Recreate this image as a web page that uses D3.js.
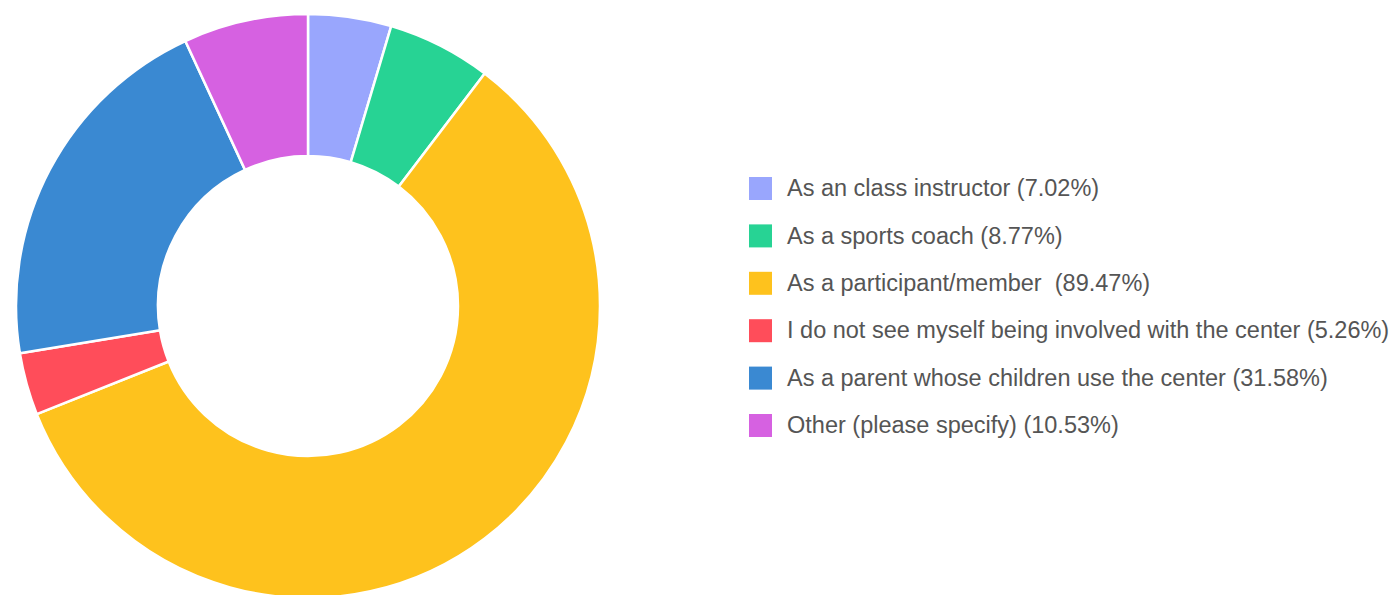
<!DOCTYPE html>
<html>
<head>
<meta charset="utf-8">
<script src="https://cdn.jsdelivr.net/npm/d3@7"></script>
<style>
  html, body { margin: 0; padding: 0; background: #fff; }
  svg { display: block; }
</style>
</head>
<body>
<div id="chart"></div>
<script>
// chart data
var categories = [
  'As an class instructor',
  'As a sports coach',
  'As a participant/member ',
  'I do not see myself being involved with the center',
  'As a parent whose children use the center',
  'Other (please specify)'
];
var percents = [7.02, 8.77, 89.47, 5.26, 31.58, 10.53];
var colors = ['#99a6fd', '#27d394', '#fec21d', '#ff4d5a', '#3a89d2', '#d661e1'];

var width = 1396, height = 595;
var cx = 308, cy = 306, outerR = 292, innerR = 150;

var svg = d3.select('#chart').append('svg')
  .attr('width', width)
  .attr('height', height);

var data = categories.map(function (c, i) {
  return { label: c, value: percents[i], color: colors[i] };
});

// pie layout, starting at 12 o'clock going clockwise
var pie = d3.pie()
  .sort(null)
  .value(function (d) { return d.value; });

var arc = d3.arc()
  .innerRadius(innerR)
  .outerRadius(outerR);

var g = svg.append('g')
  .attr('transform', 'translate(' + cx + ',' + cy + ')');

g.selectAll('path')
  .data(pie(data))
  .enter().append('path')
  .attr('d', arc)
  .attr('fill', function (d) { return d.data.color; })
  .attr('stroke', '#fff')
  .attr('stroke-width', 2.5);

// legend
var rowY = d3.scalePoint()
  .domain(categories)
  .range([188, 425]);

var legend = svg.append('g');

var rows = legend.selectAll('g')
  .data(data)
  .enter().append('g')
  .attr('transform', function (d) { return 'translate(749,' + rowY(d.label) + ')'; });

rows.append('rect')
  .attr('x', 0)
  .attr('y', -11)
  .attr('width', 23)
  .attr('height', 23)
  .attr('fill', function (d) { return d.color; });

rows.append('text')
  .attr('x', 38)
  .attr('y', 0)
  .attr('dy', '0.35em')
  .attr('font-family', '"Liberation Sans", Arial, sans-serif')
  .attr('font-size', '23.5px')
  .attr('fill', '#555')
  .text(function (d) { return d.label + ' (' + d.value.toFixed(2) + '%)'; })
  .attr('xml:space', 'preserve')
  .style('white-space', 'pre');
</script>
</body>
</html>
